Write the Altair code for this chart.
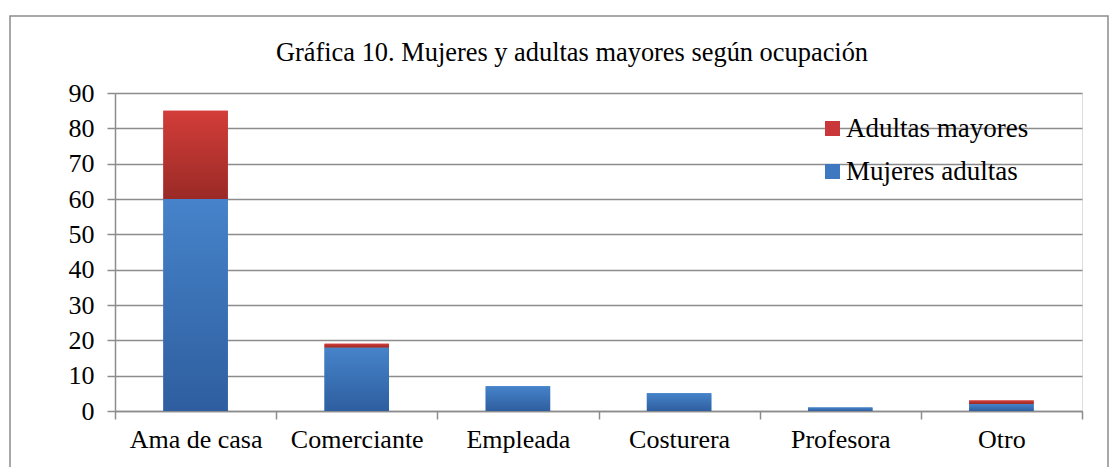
import altair as alt
import pandas as pd

categorias = ["Ama de casa", "Comerciante", "Empleada", "Costurera", "Profesora", "Otro"]
mujeres_adultas = [60, 18, 7, 5, 1, 2]
adultas_mayores = [25, 1, 0, 0, 0, 1]
series = ["Adultas mayores", "Mujeres adultas"]
colores = ["#c9373a", "#3d78c0"]
y_ticks = list(range(0, 91, 10))
titulo = "Gráfica 10. Mujeres y adultas mayores según ocupación"

rows = []
for c, m, a in zip(categorias, mujeres_adultas, adultas_mayores):
    rows.append(dict(ocupacion=c, serie="Mujeres adultas", y0=0, y1=m))
    if a > 0:
        rows.append(dict(ocupacion=c, serie="Adultas mayores", y0=m, y1=m + a))
df = pd.DataFrame(rows)

GRAY = "#8c8c8c"
FONT = "Times New Roman, Liberation Serif, DejaVu Serif, serif"

blue_grad = alt.LinearGradient(
    gradient="linear", x1=0, x2=0, y1=0, y2=1,
    stops=[alt.GradientStop(color="#4683ca", offset=0),
           alt.GradientStop(color="#2e5e9f", offset=1)])
red_grad = alt.LinearGradient(
    gradient="linear", x1=0, x2=0, y1=0, y2=1,
    stops=[alt.GradientStop(color="#d33d39", offset=0),
           alt.GradientStop(color="#9a2a26", offset=1)])

x_enc = alt.X("ocupacion:N", sort=categorias,
              scale=alt.Scale(paddingInner=0, paddingOuter=0),
              axis=alt.Axis(title=None, labelAngle=0, labelFont=FONT, labelFontSize=26,
                            labelColor="black", tickBand="extent", tickSize=8,
                            tickColor=GRAY, tickWidth=1.5, domainColor=GRAY,
                            domainWidth=1.5, labelPadding=7, grid=False))
y_enc = alt.Y("y1:Q", scale=alt.Scale(domain=[0, 90], nice=False),
              axis=alt.Axis(title=None, values=y_ticks, labelFont=FONT, labelFontSize=26,
                            labelColor="black", tickSize=8, tickColor=GRAY, tickWidth=1.5,
                            domainColor=GRAY, domainWidth=1.5, gridColor=GRAY,
                            gridWidth=1.5, grid=True, labelPadding=13))

base = alt.Chart(df).encode(x=x_enc, y=y_enc, y2="y0:Q")

legend_bars = base.mark_bar(width=alt.RelativeBandSize(0.4)).encode(
    color=alt.Color("serie:N", scale=alt.Scale(domain=series, range=colores),
                    legend=alt.Legend(title=None, orient="none", legendX=704, legendY=22,
                                      padding=0, symbolType="square", symbolSize=225,
                                      labelFont=FONT, labelFontSize=27, labelColor="black",
                                      labelOffset=0, rowPadding=15, symbolStrokeWidth=0,
                                      labelLimit=0))
)
blue_bars = base.transform_filter(alt.datum.serie == "Mujeres adultas").mark_bar(
    width=alt.RelativeBandSize(0.4), color=blue_grad)
red_bars = base.transform_filter(alt.datum.serie == "Adultas mayores").mark_bar(
    width=alt.RelativeBandSize(0.4), color=red_grad)

frame = alt.Chart(pd.DataFrame({"a": [0]})).mark_rect(
    filled=False, stroke=GRAY, strokeWidth=1.5).encode(
    x=alt.value(-105), x2=alt.value(993), y=alt.value(-77), y2=alt.value(420))

title_mark = alt.Chart(pd.DataFrame({"t": [titulo]})).mark_text(
    font=FONT, fontSize=26.4, color="black", align="center", baseline="alphabetic").encode(
    text="t:N", x=alt.value(457), y=alt.value(-32))

chart = alt.layer(frame, legend_bars, blue_bars, red_bars, title_mark).properties(
    width=967, height=318,
    autosize=alt.AutoSizeParams(type="none"),
    padding={"left": 107, "top": 85, "right": 29, "bottom": 56},
).configure_view(stroke=None).configure(background="white")

chart.save("out.html", embed_options={"renderer": "svg", "actions": False})
